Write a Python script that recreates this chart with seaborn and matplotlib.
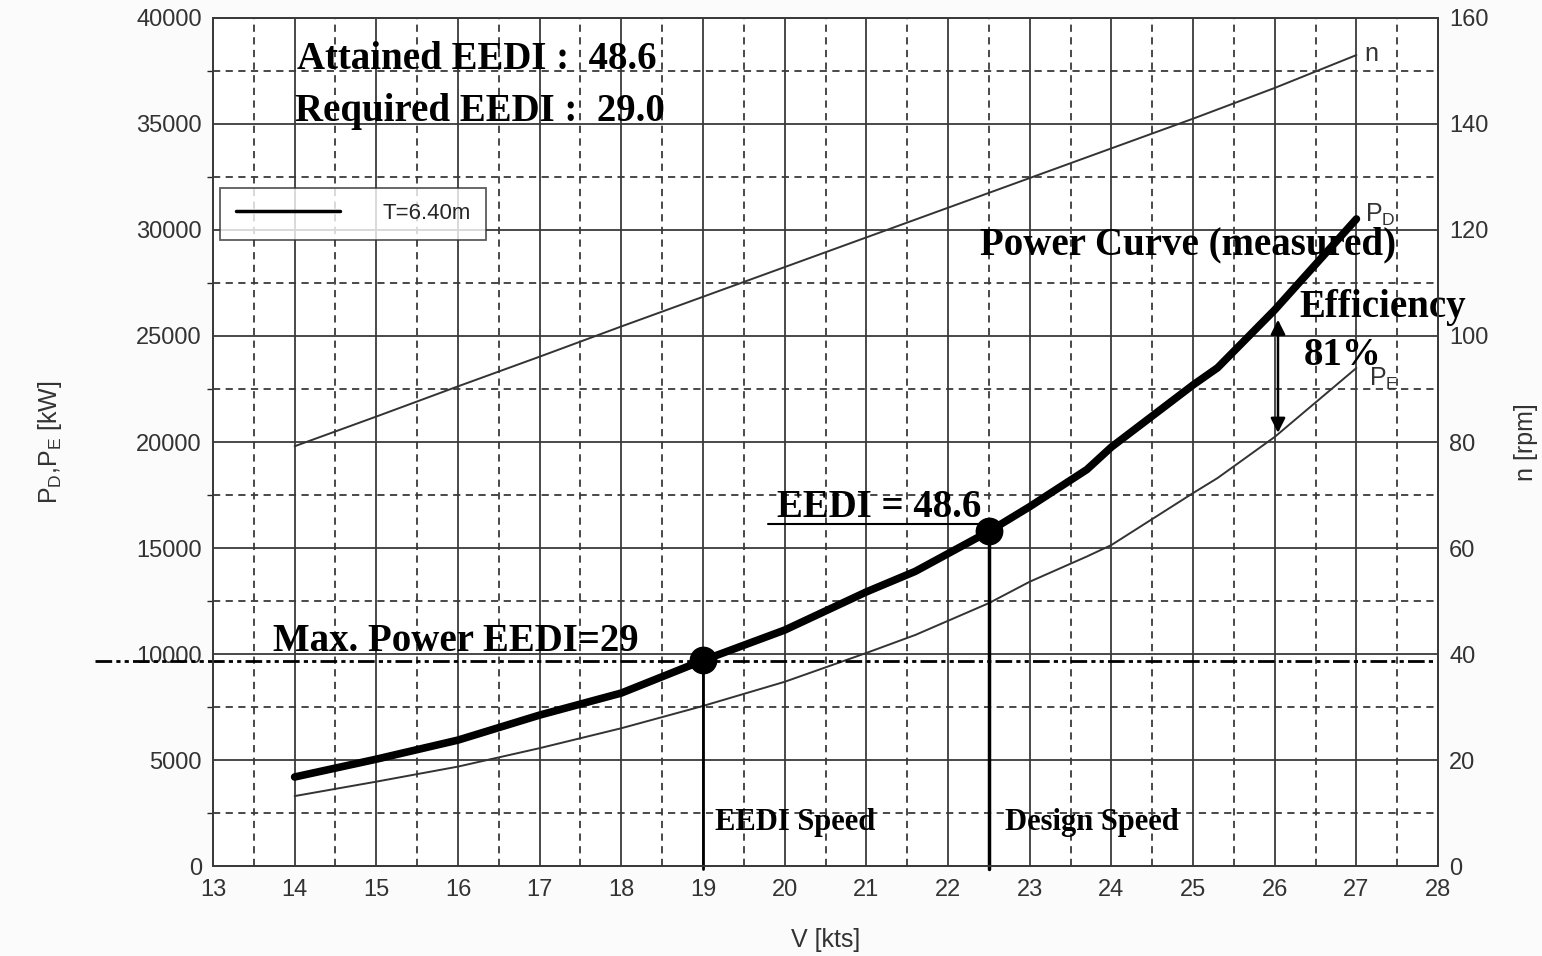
import numpy as np
import pandas as pd
import seaborn as sns
import matplotlib.pyplot as plt
from matplotlib.lines import Line2D

# speed [kts]
speed = [14, 15, 16, 17, 18, 19, 20, 21, 21.6, 22.5, 23, 23.7, 24, 25, 25.3, 26, 27]
# delivered power P_D (measured power curve) [kW]
p_d = [4200, 5040, 5940, 7120, 8160, 9700, 11130, 12930, 13900, 15780, 16950, 18700,
       19760, 22690, 23500, 26230, 30520]
# effective power P_E [kW]
p_e = [3300, 3980, 4690, 5560, 6500, 7550, 8690, 10050, 10900, 12400, 13410, 14600,
       15140, 17590, 18300, 20240, 23490]
# shaft speed n [rpm]
n_speed = [14, 15, 16, 17, 18, 19, 20, 21, 22, 23, 24, 25, 26, 27]
n_rpm = [79.2, 84.8, 90.5, 96.1, 101.8, 107.4, 113.0, 118.6, 124.2, 129.8, 135.4, 141.0, 146.8, 153.0]

eedi_speed, eedi_power = 19.0, 9700
design_speed, design_power = 22.5, 15780
max_power = 9670

df = pd.DataFrame({'V': speed, 'PD': p_d, 'PE': p_e})
df_n = pd.DataFrame({'V': n_speed, 'n': n_rpm})

sns.set_theme(style="white")
plt.rcParams['font.family'] = ['Liberation Sans', 'DejaVu Sans']
plt.rcParams['mathtext.fontset'] = 'custom'
plt.rcParams['mathtext.rm'] = 'Liberation Sans'

fig = plt.figure(figsize=(15.42, 9.56), dpi=100)
fig.patch.set_facecolor('#fbfbfb')
ax = fig.add_axes([0.1381, 0.0941, 0.7945, 0.8871])
ax.set_facecolor('white')
ax2 = ax.twinx()

gridc = '#3a3a3a'
ax.set_xlim(13, 28)
ax.set_ylim(0, 40000)
ax2.set_ylim(0, 160)
ax.set_xticks(np.arange(13, 29, 1))
ax.set_xticks(np.arange(13.5, 28, 1), minor=True)
ax.set_yticks(np.arange(0, 40001, 5000))
ax.set_yticks(np.arange(2500, 40000, 5000), minor=True)
ax2.set_yticks(np.arange(0, 161, 20))
ax.grid(which='major', color=gridc, lw=1.3, ls='-')
ax.grid(which='minor', color=gridc, lw=1.3, ls=(0, (4, 3)))
for a in (ax, ax2):
    for s in a.spines.values():
        s.set_color(gridc)
        s.set_linewidth(1.3)
    a.tick_params(length=0, labelsize=17, colors='#333333', pad=8)
ax.tick_params(axis='x', pad=9)

# curves
sns.lineplot(data=df_n, x='V', y='n', ax=ax2, color='#333333', lw=1.4)
sns.lineplot(data=df, x='V', y='PE', ax=ax, color='#333333', lw=1.4)
sns.lineplot(data=df, x='V', y='PD', ax=ax, color='black', lw=5.5)

# max power line (extends past the axis on the left)
ax.plot([11.55, 28], [max_power, max_power], color='black', lw=2,
        ls=(0, (6, 1.5, 1.5, 1.5, 1.5, 1.5)), clip_on=False, zorder=4)

# EEDI and design points with drop lines
ax.plot([eedi_speed, eedi_speed], [-150, eedi_power], color='black', lw=2, clip_on=False, zorder=4)
ax.plot([design_speed, design_speed], [-150, design_power], color='black', lw=2.5, clip_on=False, zorder=4)
ax.plot([eedi_speed, design_speed], [eedi_power, design_power], 'o', color='black', ms=19, zorder=6)

# underline for EEDI = 48.6
ax.plot([19.8, 22.45], [16150, 16150], color='black', lw=1.5, zorder=4)

# efficiency arrow
ax.annotate('', xy=(26.04, 20300), xytext=(26.04, 25900),
            arrowprops=dict(arrowstyle='<|-|>', color='black', lw=1.8, mutation_scale=22))

serif = dict(family='Liberation Serif', weight='bold', color='black')
ax.text(14.03, 38050, 'Attained EEDI :  48.6', fontsize=28, va='center', **serif)
ax.text(14.0, 35600, 'Required EEDI :  29.0', fontsize=28, va='center', **serif)
ax.text(22.39, 29300, 'Power Curve (measured)', fontsize=28, va='center', **serif)
ax.text(26.3, 26350, 'Efficiency', fontsize=28, va='center', **serif)
ax.text(26.35, 24100, '81%', fontsize=28, va='center', **serif)
ax.text(19.9, 16930, 'EEDI = 48.6', fontsize=28, va='center', **serif)
ax.text(13.73, 10600, 'Max. Power EEDI=29', fontsize=28, va='center', **serif)
ax.text(19.15, 2050, 'EEDI Speed', fontsize=22, va='center', **serif)
ax.text(22.7, 2050, 'Design Speed', fontsize=22, va='center', **serif)

# curve labels
ax.text(27.1, 38300, 'n', fontsize=18, va='center', color='#333333')
ax.text(27.1, 30700, r'P$_\mathregular{D}$', fontsize=18, va='center', color='#333333')
ax.text(27.15, 23000, r'P$_\mathregular{E}$', fontsize=18, va='center', color='#333333')

ax.set_xlabel('V [kts]', fontsize=18, color='#333333', labelpad=20)
ax.set_ylabel(r'P$_\mathregular{D}$,P$_\mathregular{E}$ [kW]', fontsize=18, color='#333333', labelpad=52)
ax2.set_ylabel('n [rpm]', fontsize=18, color='#333333', labelpad=18)

handle = Line2D([], [], color='black', lw=2.5)
leg = ax.legend([handle], ['T=6.40m'], loc='upper left', bbox_to_anchor=(0.006, 0.8),
                borderaxespad=0, fontsize=16, handlelength=4.7, handletextpad=1.9,
                borderpad=0.7, fancybox=False, frameon=True)
leg.get_frame().set_edgecolor('#333333')
leg.get_frame().set_linewidth(1.3)
leg.set_zorder(7)

fig.savefig('out.png', dpi=100, facecolor=fig.get_facecolor())
